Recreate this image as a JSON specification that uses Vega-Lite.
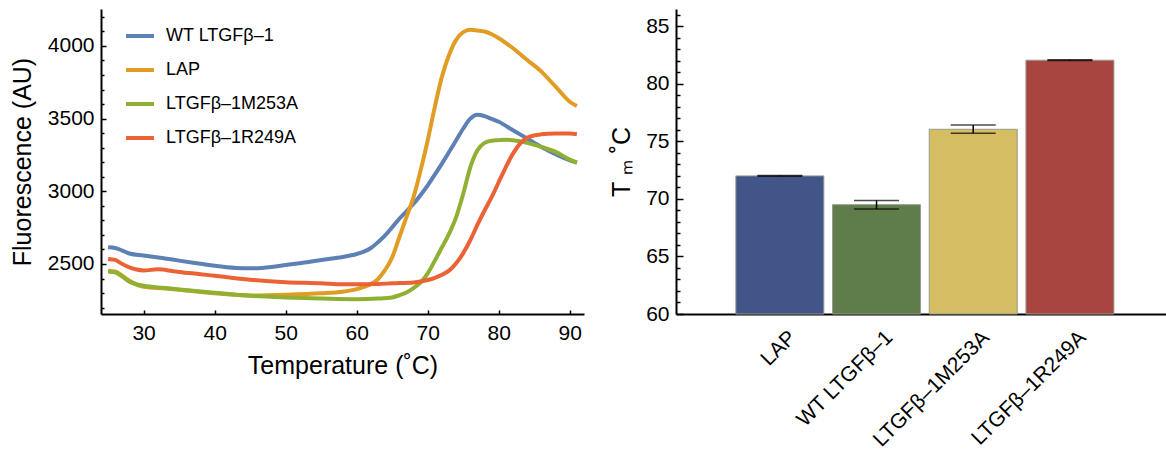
{
  "$schema": "https://vega.github.io/schema/vega-lite/v6.json",
  "padding": {"left": 10, "top": 3, "right": 0, "bottom": 0},
  "spacing": 24,
  "resolve": {"scale": {"color": "independent"}},
  "config": {
    "view": {"stroke": null},
    "font": "Liberation Sans",
    "axis": {"labelColor": "black", "titleColor": "black", "domainColor": "black", "tickColor": "black", "titleFontWeight": "normal", "grid": false, "labelOverlap": false}
  },
  "datasets": {
    "curves": [
      {"s": "WT LTGFβ–1", "t": 25, "f": 2615}, {"s": "WT LTGFβ–1", "t": 26, "f": 2610}, {"s": "WT LTGFβ–1", "t": 27, "f": 2592}, {"s": "WT LTGFβ–1", "t": 28, "f": 2572}, {"s": "WT LTGFβ–1", "t": 30, "f": 2558}, {"s": "WT LTGFβ–1", "t": 33, "f": 2538}, {"s": "WT LTGFβ–1", "t": 35, "f": 2523}, {"s": "WT LTGFβ–1", "t": 38, "f": 2502}, {"s": "WT LTGFβ–1", "t": 40, "f": 2488}, {"s": "WT LTGFβ–1", "t": 43, "f": 2473}, {"s": "WT LTGFβ–1", "t": 45, "f": 2470}, {"s": "WT LTGFβ–1", "t": 48, "f": 2480}, {"s": "WT LTGFβ–1", "t": 50, "f": 2493}, {"s": "WT LTGFβ–1", "t": 53, "f": 2512}, {"s": "WT LTGFβ–1", "t": 55, "f": 2528}, {"s": "WT LTGFβ–1", "t": 58, "f": 2548}, {"s": "WT LTGFβ–1", "t": 60, "f": 2569}, {"s": "WT LTGFβ–1", "t": 61, "f": 2585}, {"s": "WT LTGFβ–1", "t": 62, "f": 2610}, {"s": "WT LTGFβ–1", "t": 63, "f": 2650}, {"s": "WT LTGFβ–1", "t": 64, "f": 2696}, {"s": "WT LTGFβ–1", "t": 65, "f": 2753}, {"s": "WT LTGFβ–1", "t": 66, "f": 2811}, {"s": "WT LTGFβ–1", "t": 67, "f": 2862}, {"s": "WT LTGFβ–1", "t": 68, "f": 2914}, {"s": "WT LTGFβ–1", "t": 69, "f": 2975}, {"s": "WT LTGFβ–1", "t": 70, "f": 3041}, {"s": "WT LTGFβ–1", "t": 71, "f": 3115}, {"s": "WT LTGFβ–1", "t": 72, "f": 3190}, {"s": "WT LTGFβ–1", "t": 73, "f": 3270}, {"s": "WT LTGFβ–1", "t": 74, "f": 3351}, {"s": "WT LTGFβ–1", "t": 75, "f": 3432}, {"s": "WT LTGFβ–1", "t": 76, "f": 3500}, {"s": "WT LTGFβ–1", "t": 77, "f": 3527}, {"s": "WT LTGFβ–1", "t": 78, "f": 3517}, {"s": "WT LTGFβ–1", "t": 79, "f": 3498}, {"s": "WT LTGFβ–1", "t": 80, "f": 3478}, {"s": "WT LTGFβ–1", "t": 82, "f": 3420}, {"s": "WT LTGFβ–1", "t": 84, "f": 3363}, {"s": "WT LTGFβ–1", "t": 86, "f": 3305}, {"s": "WT LTGFβ–1", "t": 88, "f": 3255}, {"s": "WT LTGFβ–1", "t": 90, "f": 3213}, {"s": "WT LTGFβ–1", "t": 91, "f": 3197},
      {"s": "LAP", "t": 25, "f": 2454}, {"s": "LAP", "t": 26, "f": 2448}, {"s": "LAP", "t": 27, "f": 2419}, {"s": "LAP", "t": 28, "f": 2385}, {"s": "LAP", "t": 30, "f": 2344}, {"s": "LAP", "t": 33, "f": 2332}, {"s": "LAP", "t": 35, "f": 2323}, {"s": "LAP", "t": 40, "f": 2298}, {"s": "LAP", "t": 45, "f": 2283}, {"s": "LAP", "t": 50, "f": 2288}, {"s": "LAP", "t": 55, "f": 2298}, {"s": "LAP", "t": 58, "f": 2309}, {"s": "LAP", "t": 60, "f": 2327}, {"s": "LAP", "t": 61, "f": 2342}, {"s": "LAP", "t": 62, "f": 2362}, {"s": "LAP", "t": 63, "f": 2396}, {"s": "LAP", "t": 64, "f": 2459}, {"s": "LAP", "t": 65, "f": 2546}, {"s": "LAP", "t": 66, "f": 2684}, {"s": "LAP", "t": 67, "f": 2822}, {"s": "LAP", "t": 68, "f": 2960}, {"s": "LAP", "t": 69, "f": 3144}, {"s": "LAP", "t": 70, "f": 3351}, {"s": "LAP", "t": 71, "f": 3581}, {"s": "LAP", "t": 72, "f": 3789}, {"s": "LAP", "t": 73, "f": 3938}, {"s": "LAP", "t": 74, "f": 4042}, {"s": "LAP", "t": 75, "f": 4095}, {"s": "LAP", "t": 76, "f": 4111}, {"s": "LAP", "t": 77, "f": 4106}, {"s": "LAP", "t": 78, "f": 4099}, {"s": "LAP", "t": 79, "f": 4080}, {"s": "LAP", "t": 80, "f": 4053}, {"s": "LAP", "t": 82, "f": 3984}, {"s": "LAP", "t": 84, "f": 3903}, {"s": "LAP", "t": 86, "f": 3823}, {"s": "LAP", "t": 88, "f": 3720}, {"s": "LAP", "t": 90, "f": 3616}, {"s": "LAP", "t": 91, "f": 3586},
      {"s": "LTGFβ–1M253A", "t": 25, "f": 2449}, {"s": "LTGFβ–1M253A", "t": 26, "f": 2442}, {"s": "LTGFβ–1M253A", "t": 27, "f": 2413}, {"s": "LTGFβ–1M253A", "t": 28, "f": 2378}, {"s": "LTGFβ–1M253A", "t": 30, "f": 2350}, {"s": "LTGFβ–1M253A", "t": 33, "f": 2335}, {"s": "LTGFβ–1M253A", "t": 35, "f": 2325}, {"s": "LTGFβ–1M253A", "t": 40, "f": 2302}, {"s": "LTGFβ–1M253A", "t": 45, "f": 2281}, {"s": "LTGFβ–1M253A", "t": 50, "f": 2270}, {"s": "LTGFβ–1M253A", "t": 55, "f": 2263}, {"s": "LTGFβ–1M253A", "t": 60, "f": 2258}, {"s": "LTGFβ–1M253A", "t": 63, "f": 2262}, {"s": "LTGFβ–1M253A", "t": 65, "f": 2270}, {"s": "LTGFβ–1M253A", "t": 66, "f": 2285}, {"s": "LTGFβ–1M253A", "t": 67, "f": 2304}, {"s": "LTGFβ–1M253A", "t": 68, "f": 2334}, {"s": "LTGFβ–1M253A", "t": 69, "f": 2373}, {"s": "LTGFβ–1M253A", "t": 70, "f": 2436}, {"s": "LTGFβ–1M253A", "t": 71, "f": 2523}, {"s": "LTGFβ–1M253A", "t": 72, "f": 2615}, {"s": "LTGFβ–1M253A", "t": 73, "f": 2707}, {"s": "LTGFβ–1M253A", "t": 74, "f": 2822}, {"s": "LTGFβ–1M253A", "t": 75, "f": 2983}, {"s": "LTGFβ–1M253A", "t": 76, "f": 3167}, {"s": "LTGFβ–1M253A", "t": 77, "f": 3282}, {"s": "LTGFβ–1M253A", "t": 78, "f": 3333}, {"s": "LTGFβ–1M253A", "t": 79, "f": 3348}, {"s": "LTGFβ–1M253A", "t": 80, "f": 3352}, {"s": "LTGFβ–1M253A", "t": 81, "f": 3355}, {"s": "LTGFβ–1M253A", "t": 82, "f": 3351}, {"s": "LTGFβ–1M253A", "t": 84, "f": 3333}, {"s": "LTGFβ–1M253A", "t": 86, "f": 3305}, {"s": "LTGFβ–1M253A", "t": 88, "f": 3271}, {"s": "LTGFβ–1M253A", "t": 90, "f": 3218}, {"s": "LTGFβ–1M253A", "t": 91, "f": 3197},
      {"s": "LTGFβ–1R249A", "t": 25, "f": 2535}, {"s": "LTGFβ–1R249A", "t": 26, "f": 2528}, {"s": "LTGFβ–1R249A", "t": 27, "f": 2500}, {"s": "LTGFβ–1R249A", "t": 28, "f": 2477}, {"s": "LTGFβ–1R249A", "t": 29, "f": 2462}, {"s": "LTGFβ–1R249A", "t": 30, "f": 2456}, {"s": "LTGFβ–1R249A", "t": 32, "f": 2463}, {"s": "LTGFβ–1R249A", "t": 34, "f": 2452}, {"s": "LTGFβ–1R249A", "t": 35, "f": 2445}, {"s": "LTGFβ–1R249A", "t": 38, "f": 2430}, {"s": "LTGFβ–1R249A", "t": 40, "f": 2419}, {"s": "LTGFβ–1R249A", "t": 45, "f": 2392}, {"s": "LTGFβ–1R249A", "t": 50, "f": 2375}, {"s": "LTGFβ–1R249A", "t": 55, "f": 2367}, {"s": "LTGFβ–1R249A", "t": 58, "f": 2360}, {"s": "LTGFβ–1R249A", "t": 60, "f": 2360}, {"s": "LTGFβ–1R249A", "t": 63, "f": 2362}, {"s": "LTGFβ–1R249A", "t": 65, "f": 2367}, {"s": "LTGFβ–1R249A", "t": 68, "f": 2373}, {"s": "LTGFβ–1R249A", "t": 70, "f": 2390}, {"s": "LTGFβ–1R249A", "t": 71, "f": 2405}, {"s": "LTGFβ–1R249A", "t": 72, "f": 2426}, {"s": "LTGFβ–1R249A", "t": 73, "f": 2454}, {"s": "LTGFβ–1R249A", "t": 74, "f": 2505}, {"s": "LTGFβ–1R249A", "t": 75, "f": 2575}, {"s": "LTGFβ–1R249A", "t": 76, "f": 2665}, {"s": "LTGFβ–1R249A", "t": 77, "f": 2770}, {"s": "LTGFβ–1R249A", "t": 78, "f": 2868}, {"s": "LTGFβ–1R249A", "t": 79, "f": 2960}, {"s": "LTGFβ–1R249A", "t": 80, "f": 3064}, {"s": "LTGFβ–1R249A", "t": 81, "f": 3167}, {"s": "LTGFβ–1R249A", "t": 82, "f": 3259}, {"s": "LTGFβ–1R249A", "t": 83, "f": 3328}, {"s": "LTGFβ–1R249A", "t": 84, "f": 3368}, {"s": "LTGFβ–1R249A", "t": 85, "f": 3385}, {"s": "LTGFβ–1R249A", "t": 86, "f": 3392}, {"s": "LTGFβ–1R249A", "t": 88, "f": 3397}, {"s": "LTGFβ–1R249A", "t": 90, "f": 3398}, {"s": "LTGFβ–1R249A", "t": 91, "f": 3393}
    ],
    "bars": [
      {"name": "LAP", "tm": 72.0, "lo": 71.97, "hi": 72.03},
      {"name": "WT LTGFβ–1", "tm": 69.5, "lo": 69.13, "hi": 69.87},
      {"name": "LTGFβ–1M253A", "tm": 76.05, "lo": 75.7, "hi": 76.43},
      {"name": "LTGFβ–1R249A", "tm": 82.05, "lo": 82.02, "hi": 82.08}
    ]
  },
  "hconcat": [
    {
      "width": 483,
      "height": 305,
      "data": {"name": "curves"},
      "mark": {"type": "line", "strokeWidth": 4, "interpolate": "monotone"},
      "encoding": {
        "x": {
          "field": "t", "type": "quantitative",
          "scale": {"domain": [24, 92], "nice": false, "zero": false},
          "axis": {"title": "Temperature (˚C)", "values": [30, 40, 50, 60, 70, 80, 90], "format": "d", "tickSize": -4, "tickWidth": 1.5, "labelPadding": 12, "domainWidth": 2, "labelFontSize": 21, "titleFontSize": 25, "titlePadding": 10, "labelFlush": false}
        },
        "y": {
          "field": "f", "type": "quantitative",
          "scale": {"domain": [2156, 4254], "nice": false, "zero": false},
          "axis": {"title": "Fluorescence (AU)", "values": [2200, 2300, 2400, 2500, 2600, 2700, 2800, 2900, 3000, 3100, 3200, 3300, 3400, 3500, 3600, 3700, 3800, 3900, 4000, 4100, 4200], "tickCount": 30, "format": "d", "labelExpr": "datum.value % 500 === 0 ? datum.label : ''", "tickSize": {"condition": {"test": "datum.value % 500 === 0", "value": -5}, "value": -3}, "tickWidth": 1.5, "labelPadding": 12, "domainWidth": 2, "labelFontSize": 21, "titleFontSize": 25, "titlePadding": 12}
        },
        "color": {
          "field": "s", "type": "nominal",
          "scale": {"domain": ["WT LTGFβ–1", "LAP", "LTGFβ–1M253A", "LTGFβ–1R249A"], "range": ["#5E81B5", "#E19C24", "#8FB032", "#EB6235"]},
          "legend": {"orient": "none", "legendX": 23, "legendY": 11, "title": null, "symbolType": "stroke", "symbolStrokeWidth": 4, "symbolSize": 784, "labelFontSize": 18, "labelOffset": 10, "rowPadding": 9, "labelColor": "black", "labelLimit": 300}
        }
      }
    },
    {
      "width": 491,
      "height": 305,
      "data": {"name": "bars"},
      "encoding": {
        "x": {
          "field": "name", "type": "nominal", "sort": null,
          "scale": {"paddingInner": 0.09, "paddingOuter": 0.584, "align": 0.53},
          "axis": {"title": null, "labelAngle": -45, "labelAlign": "right", "labelBaseline": "middle", "labelOffset": 13, "labelPadding": 25, "tickSize": -5, "tickWidth": 1.5, "domainWidth": 2, "labelFontSize": 21, "labelLimit": 300}
        }
      },
      "layer": [
        {
          "mark": {"type": "bar", "stroke": "#9a9a8a", "strokeWidth": 1},
          "encoding": {
            "y": {
              "field": "tm", "type": "quantitative",
              "scale": {"domain": [60, 86.5], "nice": false, "zero": false},
              "axis": {"title": "T ₘ ˚C", "values": [60, 61, 62, 63, 64, 65, 66, 67, 68, 69, 70, 71, 72, 73, 74, 75, 76, 77, 78, 79, 80, 81, 82, 83, 84, 85, 86], "tickCount": 30, "format": "d", "labelExpr": "datum.value % 5 === 0 ? datum.label : ''", "labelOverlap": false, "tickSize": {"condition": {"test": "datum.value % 5 === 0", "value": -7}, "value": -4}, "tickWidth": 1.5, "labelPadding": 14, "domainWidth": 2, "labelFontSize": 21, "titleFontSize": 25, "titlePadding": 11}
            },
            "y2": {"datum": 60},
            "color": {
              "field": "name", "type": "nominal",
              "scale": {"domain": ["LAP", "WT LTGFβ–1", "LTGFβ–1M253A", "LTGFβ–1R249A"], "range": ["#415589", "#5F7D4A", "#D5BD63", "#A84541"]},
              "legend": null
            }
          }
        },
        {
          "mark": {"type": "rule", "color": "black", "strokeWidth": 1.5},
          "encoding": {"y": {"field": "lo", "type": "quantitative"}, "y2": {"field": "hi"}}
        },
        {
          "mark": {"type": "tick", "color": "black", "thickness": 1.5, "size": 45},
          "encoding": {"y": {"field": "hi", "type": "quantitative"}}
        },
        {
          "mark": {"type": "tick", "color": "black", "thickness": 1.5, "size": 45},
          "encoding": {"y": {"field": "lo", "type": "quantitative"}}
        }
      ]
    }
  ]
}
